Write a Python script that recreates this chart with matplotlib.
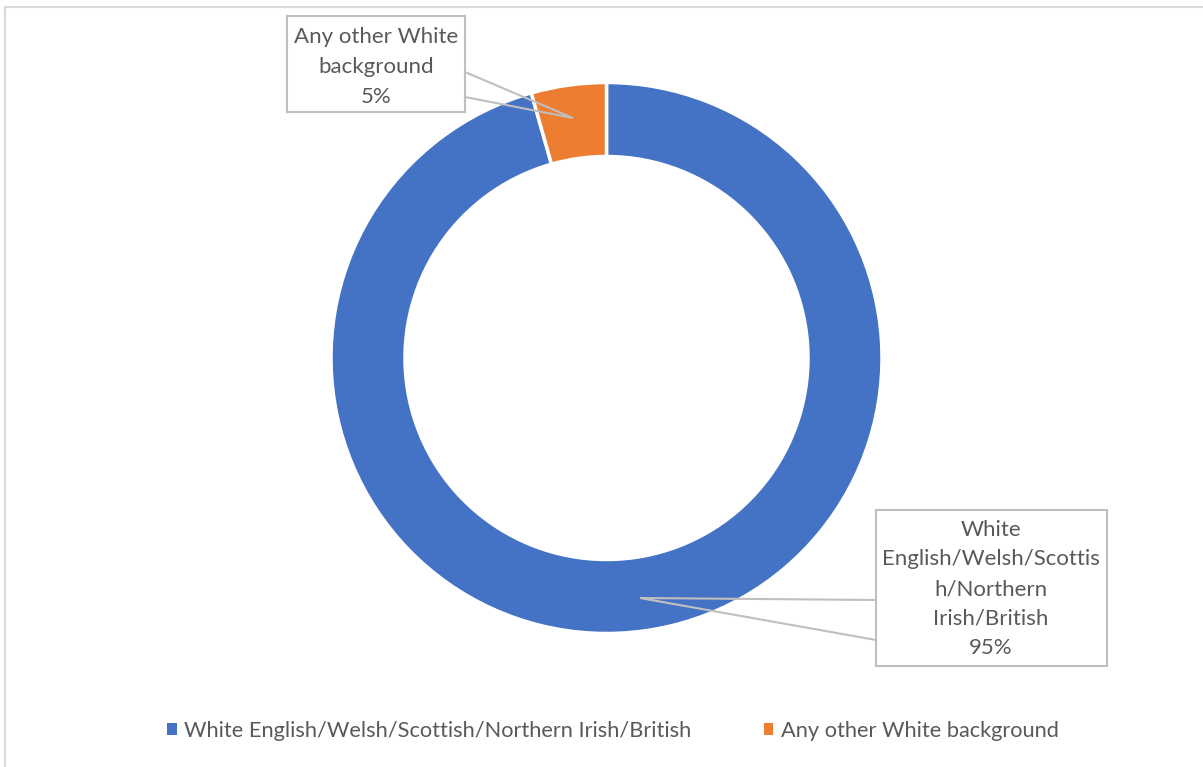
import matplotlib.pyplot as plt
from matplotlib.patches import Rectangle

plt.rcParams['font.family'] = ['Lato', 'DejaVu Sans']

# data
categories = ['White English/Welsh/Scottish/Northern Irish/British',
              'Any other White background']
shares = [95.6, 4.4]
pct_text = ['95%', '5%']
box_text = ['White\nEnglish/Welsh/Scottis\nh/Northern\nIrish/British',
            'Any other White\nbackground']
colors = ['#4472C4', '#ED7D31']

W, H = 1203, 767
txt_col = '#595959'
box_col = '#BFBFBF'

fig = plt.figure(figsize=(W / 100, H / 100), dpi=100)
ax = fig.add_axes([0, 0, 1, 1])


def py(y):  # pixel row -> data y
    return H - y


wedges, _ = ax.pie(shares, colors=colors, startangle=90, counterclock=False,
                   center=(606.5, py(358)), radius=275.5, frame=True,
                   wedgeprops=dict(width=74, edgecolor='white', linewidth=2.5))
ax.set_xlim(0, W)
ax.set_ylim(0, H)
ax.set_aspect('auto')
ax.axis('off')

# outer frame
ax.add_patch(Rectangle((5, py(800)), 1250, 793, fill=False, ec='#D9D9D9', lw=1.5))


def callout(x0, y0, x1, y1, ptr, text, tx, ty):
    ax.add_patch(Rectangle((x0, py(y1)), x1 - x0, y1 - y0, fc='white', ec=box_col,
                           lw=1.5, zorder=5))
    (ax_, ay_), (bx_, by_), (tipx, tipy) = ptr
    ax.plot([ax_, tipx, bx_], [py(ay_), py(tipy), py(by_)], color=box_col, lw=1.5,
            zorder=5, solid_joinstyle='miter')
    ax.text(tx, py(ty), text, ha='center', va='center', color=txt_col, fontsize=16,
            linespacing=1.6, zorder=6)


callout(287, 16, 465, 112, ((465, 72), (465, 97), (573, 118)),
        box_text[1] + '\n' + pct_text[1], 376, 67)
callout(876, 510, 1107, 666, ((876, 600), (876, 640), (640, 598)),
        box_text[0] + '\n' + pct_text[0], 991, 589)

leg = ax.legend(wedges, categories, loc='center', bbox_to_anchor=(613 / W, 1 - 731 / H),
                ncol=2, frameon=False, fontsize=15.7, handlelength=0.45, handleheight=0.45,
                handletextpad=0.35, columnspacing=3.3, labelcolor=txt_col)
for h in leg.legend_handles:
    h.set_edgecolor('none')

fig.savefig('out.png', dpi=100)
